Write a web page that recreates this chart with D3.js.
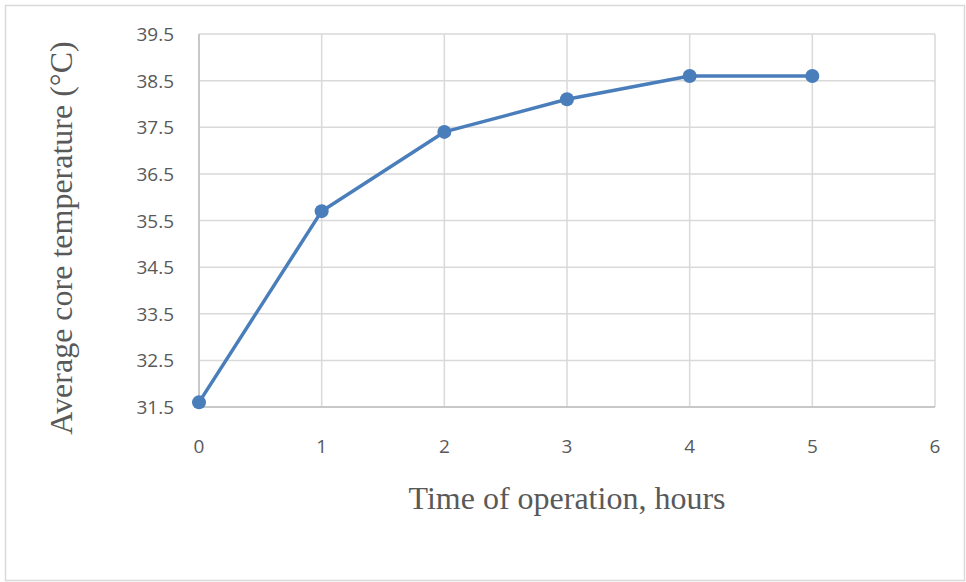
<!DOCTYPE html>
<html>
<head>
<meta charset="utf-8">
<script src="https://d3js.org/d3.v7.min.js"></script>
<style>
    body { margin: 0; background: #fff; }
    .tick-label { font-family: "Open Sans", "DejaVu Sans", sans-serif; font-size: 19px; fill: #595959; }
    .axis-title { font-family: "Liberation Serif", "Times New Roman", serif; font-size: 32px; fill: #595959; }
</style>
</head>
<body>
<svg id="chart" width="966" height="582"></svg>
<script>
const hours = [0, 1, 2, 3, 4, 5];
const temperatures = [31.6, 35.7, 37.4, 38.1, 38.6, 38.6];
const xTicks = [0, 1, 2, 3, 4, 5, 6];
const yTicks = [31.5, 32.5, 33.5, 34.5, 35.5, 36.5, 37.5, 38.5, 39.5];

const svg = d3.select("#chart");

const plot = { left: 199, top: 34, right: 935, bottom: 407 };

const x = d3.scaleLinear().domain([0, 6]).range([plot.left, plot.right]);
const y = d3.scaleLinear().domain([31.5, 39.5]).range([plot.bottom, plot.top]);

// outer chart border
svg.append("rect")
    .attr("x", 5.5)
    .attr("y", 5.5)
    .attr("width", 959)
    .attr("height", 575)
    .attr("fill", "#fff")
    .attr("stroke", "#d9d9d9")
    .attr("stroke-width", 1.5);

// gridlines
svg.append("g")
    .selectAll("line")
    .data(yTicks)
    .enter()
    .append("line")
    .attr("x1", plot.left)
    .attr("x2", plot.right)
    .attr("y1", function(d) { return y(d); })
    .attr("y2", function(d) { return y(d); })
    .attr("stroke", "#d9d9d9")
    .attr("stroke-width", 1.5);

svg.append("g")
    .selectAll("line")
    .data(xTicks)
    .enter()
    .append("line")
    .attr("x1", function(d) { return x(d); })
    .attr("x2", function(d) { return x(d); })
    .attr("y1", plot.top)
    .attr("y2", plot.bottom)
    .attr("stroke", "#d9d9d9")
    .attr("stroke-width", 1.5);

// axis lines
svg.append("line")
    .attr("x1", plot.left).attr("x2", plot.left)
    .attr("y1", plot.top).attr("y2", plot.bottom)
    .attr("stroke", "#bfbfbf")
    .attr("stroke-width", 1.5);

svg.append("line")
    .attr("x1", plot.left).attr("x2", plot.right)
    .attr("y1", plot.bottom).attr("y2", plot.bottom)
    .attr("stroke", "#bfbfbf")
    .attr("stroke-width", 1.5);

// tick labels
svg.append("g")
    .selectAll("text")
    .data(yTicks)
    .enter()
    .append("text")
    .attr("class", "tick-label")
    .attr("x", 174)
    .attr("y", function(d) { return y(d) + 7; })
    .attr("text-anchor", "end")
    .text(function(d) { return d.toFixed(1); });

svg.append("g")
    .selectAll("text")
    .data(xTicks)
    .enter()
    .append("text")
    .attr("class", "tick-label")
    .attr("x", function(d) { return x(d); })
    .attr("y", 453)
    .attr("text-anchor", "middle")
    .text(function(d) { return d; });

// series
const line = d3.line()
    .x(function(d, i) { return x(hours[i]); })
    .y(function(d) { return y(d); });

svg.append("path")
    .datum(temperatures)
    .attr("d", line)
    .attr("fill", "none")
    .attr("stroke", "#4a7ebb")
    .attr("stroke-width", 3.5)
    .attr("stroke-linejoin", "round");

svg.append("g")
    .selectAll("circle")
    .data(temperatures)
    .enter()
    .append("circle")
    .attr("cx", function(d, i) { return x(hours[i]); })
    .attr("cy", function(d) { return y(d); })
    .attr("r", 7)
    .attr("fill", "#4a7ebb");

// axis titles
svg.append("text")
    .attr("class", "axis-title")
    .attr("x", 567)
    .attr("y", 509)
    .attr("text-anchor", "middle")
    .text("Time of operation, hours");

svg.append("text")
    .attr("class", "axis-title")
    .attr("transform", "translate(72, 238) rotate(-90)")
    .attr("text-anchor", "middle")
    .text("Average core temperature (°C)");
</script>
</body>
</html>
